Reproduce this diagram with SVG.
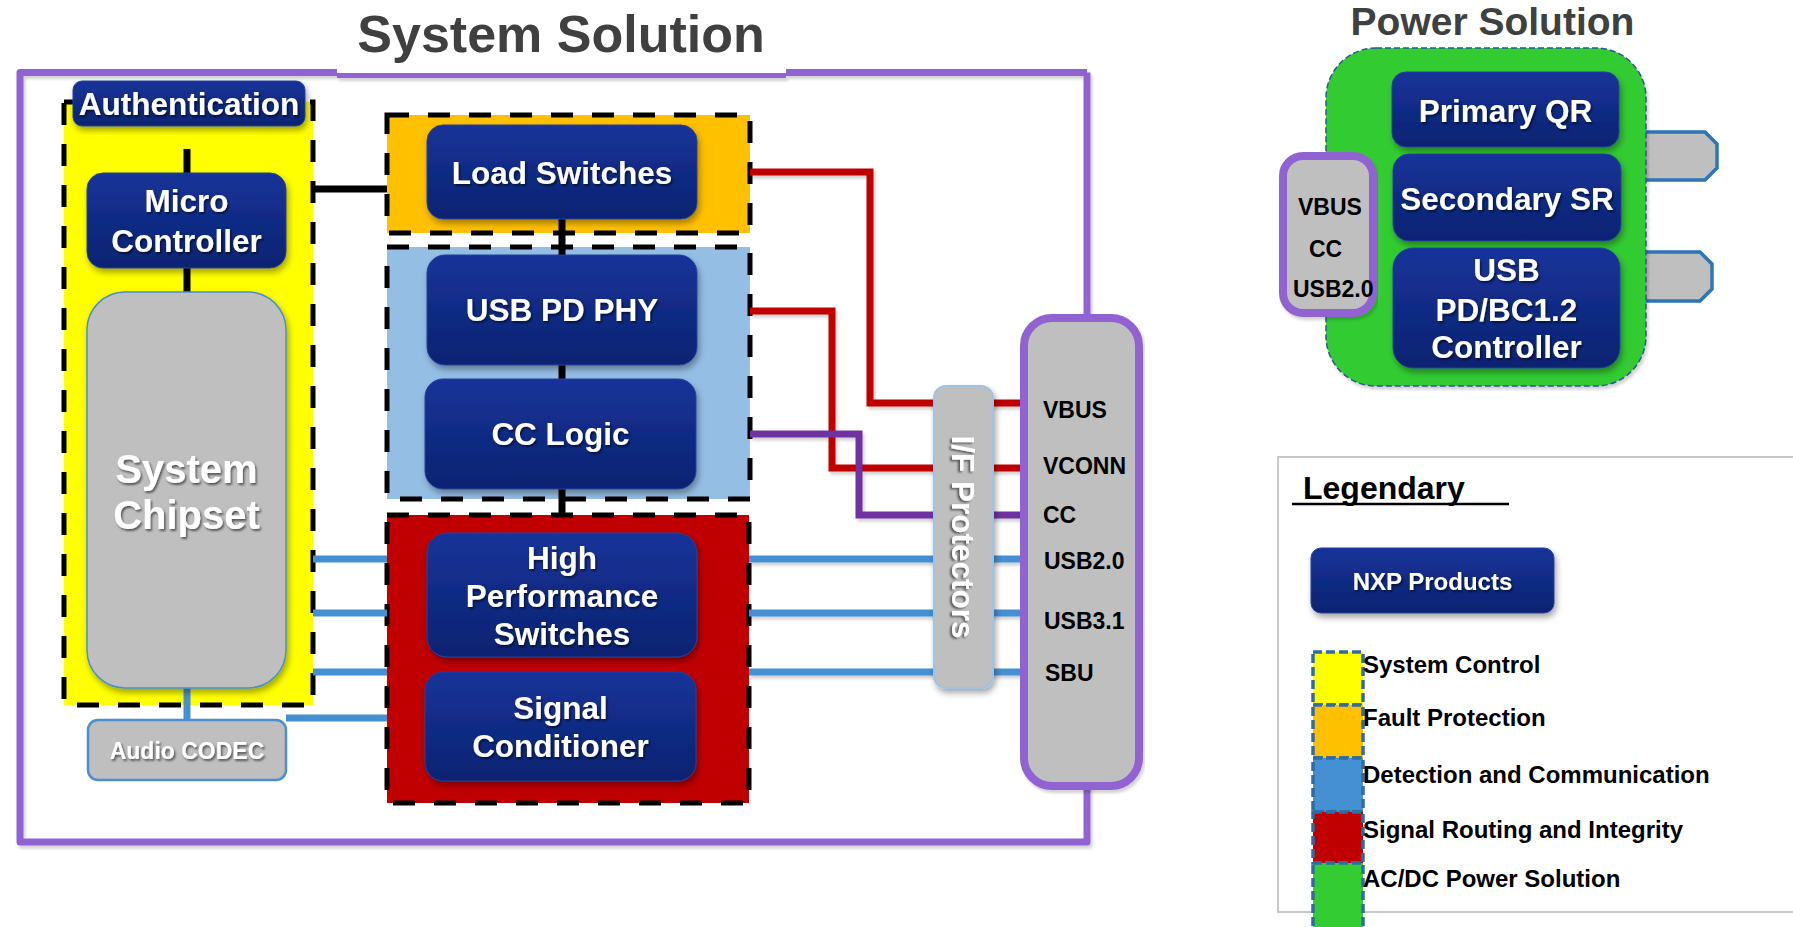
<svg xmlns="http://www.w3.org/2000/svg" width="1793" height="927" viewBox="0 0 1793 927">
  <defs>
    <linearGradient id="navy" x1="0" y1="0" x2="0" y2="1">
      <stop offset="0" stop-color="#153399"/>
      <stop offset="1" stop-color="#0d2371"/>
    </linearGradient>
    <filter id="boxShadow" x="-10%" y="-10%" width="125%" height="130%">
      <feDropShadow dx="2" dy="4" stdDeviation="3" flood-color="#000" flood-opacity="0.35"/>
    </filter>
    <filter id="lineShadow" x="-5%" y="-5%" width="110%" height="115%">
      <feDropShadow dx="2" dy="3" stdDeviation="1.5" flood-color="#000" flood-opacity="0.18"/>
    </filter>
    <filter id="textShadow" x="-10%" y="-20%" width="120%" height="150%">
      <feDropShadow dx="1.5" dy="2" stdDeviation="1" flood-color="#000" flood-opacity="0.55"/>
    </filter>
    <style>
      .txt { font-family: "Liberation Sans", Arial, Helvetica, sans-serif; font-weight: bold; }
      .title { fill: #404040; text-anchor: middle; }
      .nxp rect { fill: url(#navy); stroke: #23419f; stroke-width: 1; filter: url(#boxShadow); }
      .nxp text { fill: #fff; text-anchor: middle; font-size: 31.5px; filter: url(#textShadow); }
      .region { stroke: #000; stroke-width: 5; stroke-dasharray: 22 19; }
      .gray { fill: #bfbfbf; }
      .pin { fill: #000; font-size: 23px; }
      .wire { fill: none; stroke-width: 7; stroke-linejoin: miter; }
      .red { stroke: #c00000; }
      .purple { stroke: #7030a0; }
      .blue { stroke: #4590d2; }
      .black { stroke: #000; }
      .frame { fill: none; stroke: #9162d2; stroke-width: 7; }
      .swatch { stroke: #2e6ca3; stroke-width: 3.5; stroke-dasharray: 9 4; }
      .lg { fill: #000; font-size: 24px; }
    </style>
  </defs>

  <rect width="1793" height="927" fill="#fff"/>

  <!-- System Solution frame -->
  <g id="system-frame">
    <g filter="url(#lineShadow)">
      <path class="frame" d="M1087 72.5 H786 M337 72.5 H20 V842 H1087 V72.5" stroke-linejoin="round"/>
      <path class="frame" d="M337 75.5 H786" style="stroke-width:5"/>
    </g>
    <text class="txt title" x="561" y="52" font-size="52">System Solution</text>
  </g>

  <!-- Region backgrounds -->
  <g id="region-system-control">
    <rect class="region" x="64" y="102" width="249" height="603" fill="#ffff00"/>
  </g>
  <g id="region-fault-protection">
    <rect class="region" x="387" y="115" width="363" height="118" fill="#ffc000"/>
  </g>
  <g id="region-detection">
    <rect class="region" x="387" y="247" width="363" height="252" fill="#95bee5"/>
  </g>
  <g id="region-signal-routing">
    <rect class="region" x="387" y="515" width="362" height="288" fill="#c00000"/>
  </g>

  <!-- Connectors -->
  <g id="connectors">
    <g filter="url(#lineShadow)">
      <path class="wire red" d="M750 172 H870 V403 H1022"/>
      <path class="wire red" d="M750 311 H832 V468 H1022"/>
      <path class="wire purple" d="M750 434 H859 V515 H1022"/>
      <path class="wire blue" d="M749 559 H1022"/>
      <path class="wire blue" d="M749 613 H1022"/>
      <path class="wire blue" d="M749 672 H1022"/>
    </g>
    <path class="wire blue" d="M313 559 H387"/>
    <path class="wire blue" d="M313 613 H387"/>
    <path class="wire blue" d="M313 672 H387"/>
    <path class="wire blue" d="M286 718 H387"/>
    <path class="wire blue" d="M187 686 V722"/>
    <path class="wire black" d="M187 149 V175"/>
    <path class="wire black" d="M187 266 V294"/>
    <path class="wire black" d="M313 189 H387"/>
    <path class="wire black" d="M562 217 V258"/>
    <path class="wire black" d="M562 363 V381"/>
    <path class="wire black" d="M562 487 V515"/>
  </g>

  <!-- System control nodes -->
  <g id="authentication" class="nxp txt">
    <rect x="73" y="81" width="232" height="45" rx="9"/>
    <text x="189" y="115">Authentication</text>
  </g>
  <g id="micro-controller" class="nxp txt">
    <rect x="87" y="173" width="199" height="95" rx="16"/>
    <text x="186.5" y="212">Micro</text>
    <text x="186.5" y="252">Controller</text>
  </g>
  <g id="system-chipset" class="txt">
    <rect class="gray" x="87" y="292" width="199" height="396" rx="38" stroke="#4a90d0" stroke-width="1.5" filter="url(#boxShadow)"/>
    <text x="186.5" y="483" font-size="40" fill="#fff" text-anchor="middle" filter="url(#textShadow)">System</text>
    <text x="186.5" y="529" font-size="40" fill="#fff" text-anchor="middle" filter="url(#textShadow)">Chipset</text>
  </g>
  <g id="audio-codec" class="txt">
    <rect class="gray" x="88" y="720" width="198" height="60" rx="10" stroke="#4a90d0" stroke-width="2.5"/>
    <text x="187" y="759" font-size="23" fill="#fff" text-anchor="middle" filter="url(#textShadow)">Audio CODEC</text>
  </g>

  <!-- Fault protection / detection / signal nodes -->
  <g id="load-switches" class="nxp txt">
    <rect x="427" y="125" width="270" height="94" rx="16"/>
    <text x="562" y="184">Load Switches</text>
  </g>
  <g id="usb-pd-phy" class="nxp txt">
    <rect x="427" y="255" width="270" height="110" rx="18"/>
    <text x="562" y="321">USB PD PHY</text>
  </g>
  <g id="cc-logic" class="nxp txt">
    <rect x="425" y="379" width="271" height="110" rx="18"/>
    <text x="560.5" y="445">CC Logic</text>
  </g>
  <g id="high-performance-switches" class="nxp txt">
    <rect x="427" y="533" width="270" height="124" rx="20"/>
    <text x="562" y="569">High</text>
    <text x="562" y="607">Performance</text>
    <text x="562" y="645">Switches</text>
  </g>
  <g id="signal-conditioner" class="nxp txt">
    <rect x="425" y="672" width="271" height="109" rx="18"/>
    <text x="560.5" y="719">Signal</text>
    <text x="560.5" y="757">Conditioner</text>
  </g>

  <!-- Interface protectors -->
  <g id="if-protectors" class="txt">
    <rect class="gray" x="934" y="386" width="59" height="302" rx="12" stroke="#9dc3e6" stroke-width="2" filter="url(#boxShadow)"/>
    <text transform="translate(952 537) rotate(90)" font-size="31.5" fill="#fff" text-anchor="middle" filter="url(#textShadow)">I/F Protectors</text>
  </g>

  <!-- Type-C connector -->
  <g id="usb-c-connector" class="txt">
    <rect class="gray" x="1024" y="318" width="115" height="468" rx="28" stroke="#9162d2" stroke-width="8" filter="url(#lineShadow)"/>
    <text class="pin" x="1043" y="418">VBUS</text>
    <text class="pin" x="1043" y="474">VCONN</text>
    <text class="pin" x="1043" y="523">CC</text>
    <text class="pin" x="1044" y="569">USB2.0</text>
    <text class="pin" x="1044" y="629">USB3.1</text>
    <text class="pin" x="1045" y="681">SBU</text>
  </g>

  <!-- Power solution -->
  <g id="power-solution" class="txt">
    <text class="title" x="1492.5" y="35" font-size="39">Power Solution</text>
    <path d="M1630 132 H1705 L1717 144 V168 L1705 180 H1630 Z" fill="#bfbfbf" stroke="#2e75b6" stroke-width="3.5"/>
    <path d="M1630 252 H1700 L1712 264 V289 L1700 301 H1630 Z" fill="#bfbfbf" stroke="#2e75b6" stroke-width="3.5"/>
    <rect x="1326" y="48" width="320" height="338" rx="50" fill="#33cc33" stroke="#2f5597" stroke-width="1.5" stroke-dasharray="6 3" filter="url(#lineShadow)"/>
  </g>
  <g id="primary-qr" class="nxp txt">
    <rect x="1392" y="72" width="227" height="75" rx="14"/>
    <text x="1505.5" y="122">Primary QR</text>
  </g>
  <g id="secondary-sr" class="nxp txt">
    <rect x="1393" y="154" width="228" height="87" rx="16"/>
    <text x="1507" y="210">Secondary SR</text>
  </g>
  <g id="pd-controller" class="nxp txt">
    <rect x="1393" y="248" width="227" height="120" rx="20"/>
    <text x="1506.5" y="281">USB</text>
    <text x="1506.5" y="321">PD/BC1.2</text>
    <text x="1506.5" y="358">Controller</text>
  </g>
  <g id="power-connector" class="txt">
    <rect class="gray" x="1283" y="156" width="90" height="157" rx="20" stroke="#9162d2" stroke-width="8" filter="url(#lineShadow)"/>
    <text class="pin" x="1298" y="215">VBUS</text>
    <text class="pin" x="1309" y="257">CC</text>
    <text class="pin" x="1293" y="297">USB2.0</text>
  </g>

  <!-- Legend -->
  <g id="legend" class="txt">
    <rect x="1278" y="457" width="600" height="455" fill="#fff" stroke="#c8c8c8" stroke-width="2"/>
    <text x="1303" y="499" font-size="32" fill="#000">Legendary</text>
    <line x1="1292" y1="504" x2="1509" y2="504" stroke="#000" stroke-width="2.5"/>
    <g class="nxp">
      <rect x="1311" y="548" width="243" height="65" rx="10"/>
      <text x="1432.5" y="590" style="font-size:24px">NXP Products</text>
    </g>
    <rect class="swatch" x="1313" y="652" width="50" height="53" fill="#ffff00"/>
    <rect class="swatch" x="1313" y="705" width="50" height="53" fill="#ffc000"/>
    <rect class="swatch" x="1313" y="758" width="50" height="54" fill="#4590d2"/>
    <rect class="swatch" x="1313" y="812" width="50" height="51" fill="#c00000"/>
    <rect class="swatch" x="1313" y="863" width="50" height="66" fill="#33cc33"/>
    <text class="lg" x="1363" y="673">System Control</text>
    <text class="lg" x="1363" y="726">Fault Protection</text>
    <text class="lg" x="1363" y="783">Detection and Communication</text>
    <text class="lg" x="1363" y="838">Signal Routing and Integrity</text>
    <text class="lg" x="1363" y="887">AC/DC Power Solution</text>
  </g>
</svg>
